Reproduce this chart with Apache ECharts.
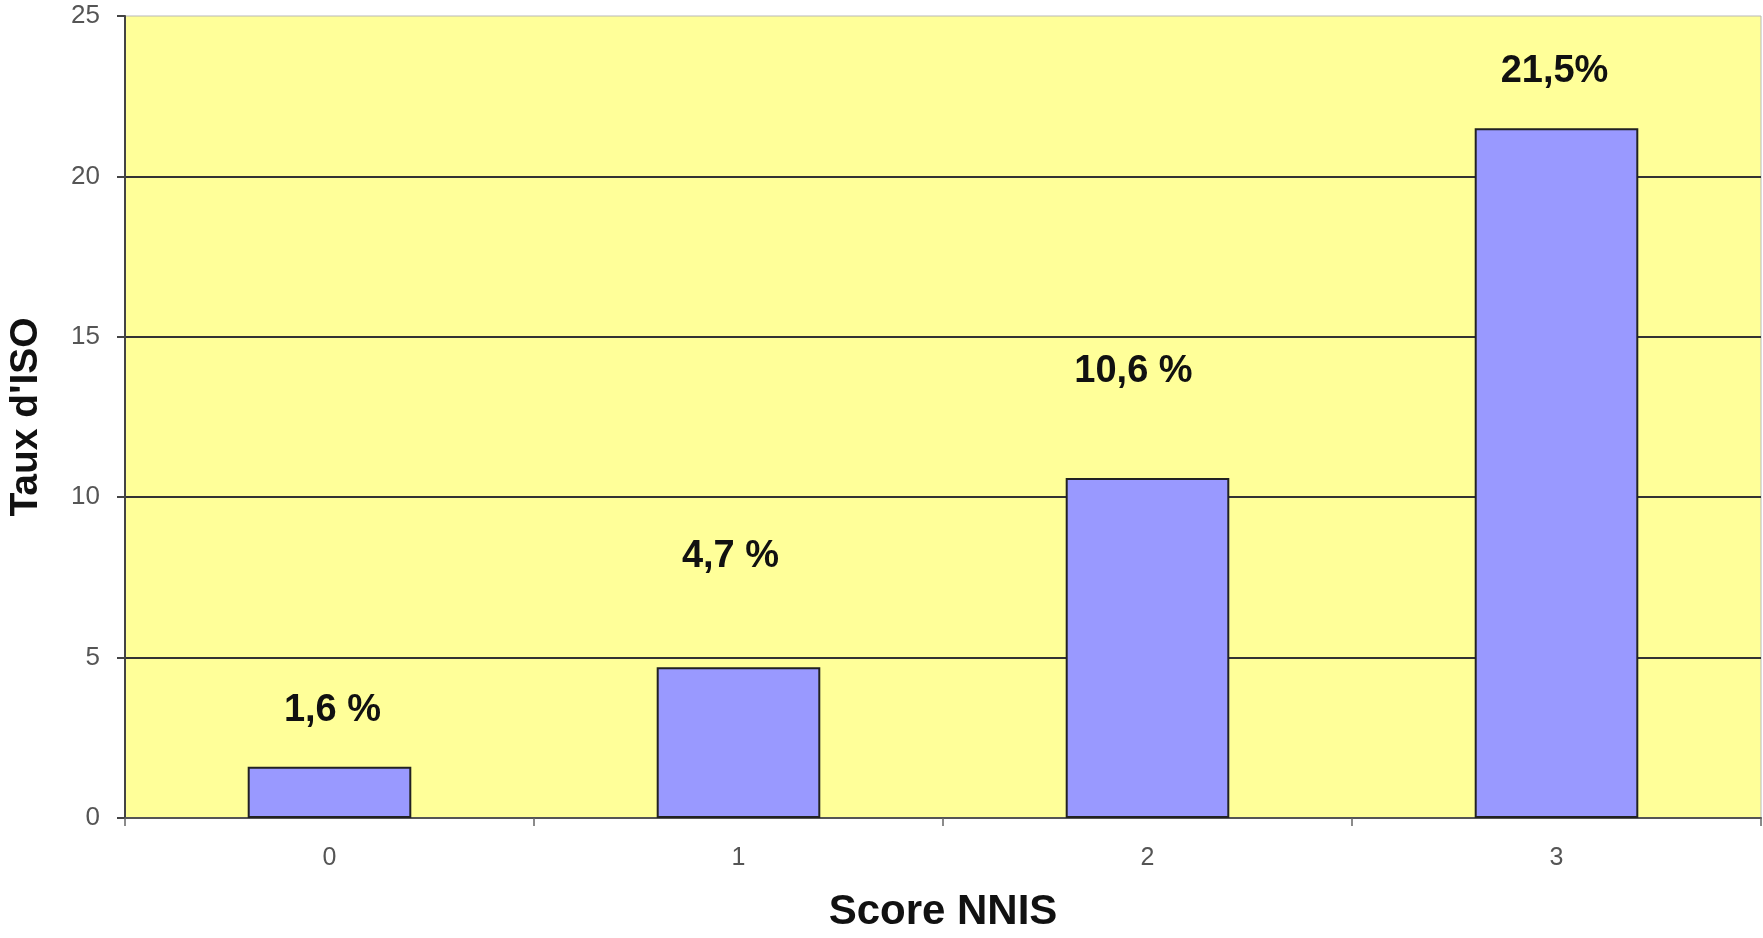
<!DOCTYPE html>
<html>
<head>
<meta charset="utf-8">
<script src="https://cdn.jsdelivr.net/npm/echarts@6/dist/echarts.min.js"></script>
<style>
html,body{margin:0;padding:0;background:#fff;}
#chart{width:1763px;height:938px;}
</style>
</head>
<body>
<div id="chart"></div>
<script>
const categories = ['0', '1', '2', '3'];
const values = [1.6, 4.7, 10.6, 21.5];
const valueLabels = ['1,6 %', '4,7 %', '10,6 %', '21,5%'];
const yTicks = [0, 5, 10, 15, 20, 25];

// label placement tweaks (pixels): distance above bar and horizontal shift
const labelDistance = [37, 92, 87, 38];
const labelShiftX = [3, -8, -14, -2];

const chart = echarts.init(document.getElementById('chart'));
const FONT = '"Liberation Sans", Arial, sans-serif';

chart.setOption({
  animation: false,
  backgroundColor: '#ffffff',
  grid: {
    left: 125, right: 2, top: 16, bottom: 120,
    outerBoundsMode: 'none',
    containLabel: false,
    show: true, backgroundColor: '#FFFF99', borderColor: '#b8b8b8', borderWidth: 1
  },
  xAxis: {
    type: 'category',
    data: categories,
    name: 'Score NNIS',
    nameLocation: 'middle',
    nameGap: 73,
    nameTextStyle: { fontFamily: FONT, fontSize: 42, fontWeight: 'bold', color: '#111' },
    axisLine: { lineStyle: { color: '#555', width: 2 } },
    axisTick: { show: true, length: 8, lineStyle: { color: '#666', width: 1.5 } },
    axisLabel: { fontFamily: FONT, fontSize: 25, color: '#555', margin: 28 }
  },
  yAxis: {
    type: 'value',
    min: yTicks[0],
    max: yTicks[yTicks.length - 1],
    interval: 5,
    name: "Taux d'ISO",
    nameLocation: 'middle',
    nameGap: 79,
    nameRotate: 90,
    nameTextStyle: { fontFamily: FONT, fontSize: 39, fontWeight: 'bold', color: '#111' },
    axisLine: { show: true, lineStyle: { color: '#444', width: 2 } },
    axisTick: { show: true, length: 8, lineStyle: { color: '#444', width: 2 } },
    axisLabel: { fontFamily: FONT, fontSize: 26, color: '#555', margin: 25 },
    splitLine: { show: true, showMaxLine: false, lineStyle: { color: '#333', width: 2 } }
  },
  series: [{
    type: 'bar',
    barWidth: '40%',
    data: values.map((v, i) => ({
      value: v,
      label: {
        show: true,
        position: 'top',
        distance: labelDistance[i],
        offset: [labelShiftX[i], 0],
        formatter: valueLabels[i]
      }
    })),
    itemStyle: { color: '#9999FF', borderColor: '#222', borderWidth: 2 },
    label: { fontFamily: FONT, fontSize: 38, fontWeight: 'bold', color: '#111' }
  }]
});
</script>
</body>
</html>
